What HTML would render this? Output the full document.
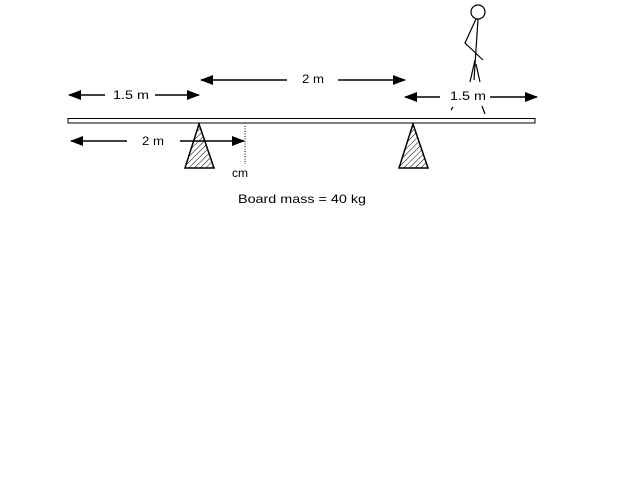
<!DOCTYPE html>
<html><head><style>body{margin:0;background:#fff}svg{display:block}text{font-family:"Liberation Sans",sans-serif;font-size:12px;fill:#000}</style></head><body>
<svg width="640" height="480" viewBox="0 0 640 480">
<defs>
<pattern id="h" width="4" height="4" patternUnits="userSpaceOnUse" patternTransform="rotate(45)"><line x1="0" y1="0" x2="0" y2="4" stroke="#000" stroke-width="1"/></pattern>
<marker id="a" markerWidth="13" markerHeight="10" refX="12" refY="5" orient="auto" markerUnits="userSpaceOnUse"><path d="M0,0 L13,5 L0,10 z" fill="#000"/></marker>
</defs>
<rect x="68" y="118.5" width="467" height="4.5" fill="#fff" stroke="#000"/>
<path d="M199,124 L185,168 L214,168 Z" fill="url(#h)" stroke="#000" stroke-width="1.5"/>
<path d="M413,124 L399,168 L428,168 Z" fill="url(#h)" stroke="#000" stroke-width="1.5"/>
<g stroke="#000" stroke-width="1.5" fill="none">
<line x1="105" y1="95" x2="69" y2="95" marker-end="url(#a)"/>
<line x1="155" y1="95" x2="199" y2="95" marker-end="url(#a)"/>
<line x1="287" y1="80" x2="201" y2="80" marker-end="url(#a)"/>
<line x1="338" y1="80" x2="405" y2="80" marker-end="url(#a)"/>
<line x1="440" y1="97" x2="405" y2="97" marker-end="url(#a)"/>
<line x1="490" y1="97" x2="537" y2="97" marker-end="url(#a)"/>
<line x1="127" y1="141" x2="71" y2="141" marker-end="url(#a)"/>
<line x1="180" y1="141" x2="244" y2="141" marker-end="url(#a)"/>
</g>
<line x1="245" y1="126" x2="245" y2="164" stroke="#000" stroke-dasharray="1,1.5"/>
<g stroke="#000" stroke-width="1.2" fill="none">
<circle cx="478" cy="12" r="7"/>
<path d="M476,19 L465,43 L483,60"/>
<path d="M478,19 L474,80"/>
<path d="M475,60 L470,82"/>
<path d="M476,64 L480,82"/>
<path d="M453,107 L451,110"/>
<path d="M482,106 L485,114"/>
</g>
<text x="113" y="99" textLength="36" lengthAdjust="spacingAndGlyphs">1.5 m</text>
<text x="302" y="83" textLength="22" lengthAdjust="spacingAndGlyphs">2 m</text>
<text x="450" y="100" textLength="36" lengthAdjust="spacingAndGlyphs">1.5 m</text>
<text x="142" y="145" textLength="22" lengthAdjust="spacingAndGlyphs">2 m</text>
<text x="232" y="177">cm</text>
<text x="238" y="203" textLength="128" lengthAdjust="spacingAndGlyphs">Board mass = 40 kg</text>
</svg>
</body></html>
